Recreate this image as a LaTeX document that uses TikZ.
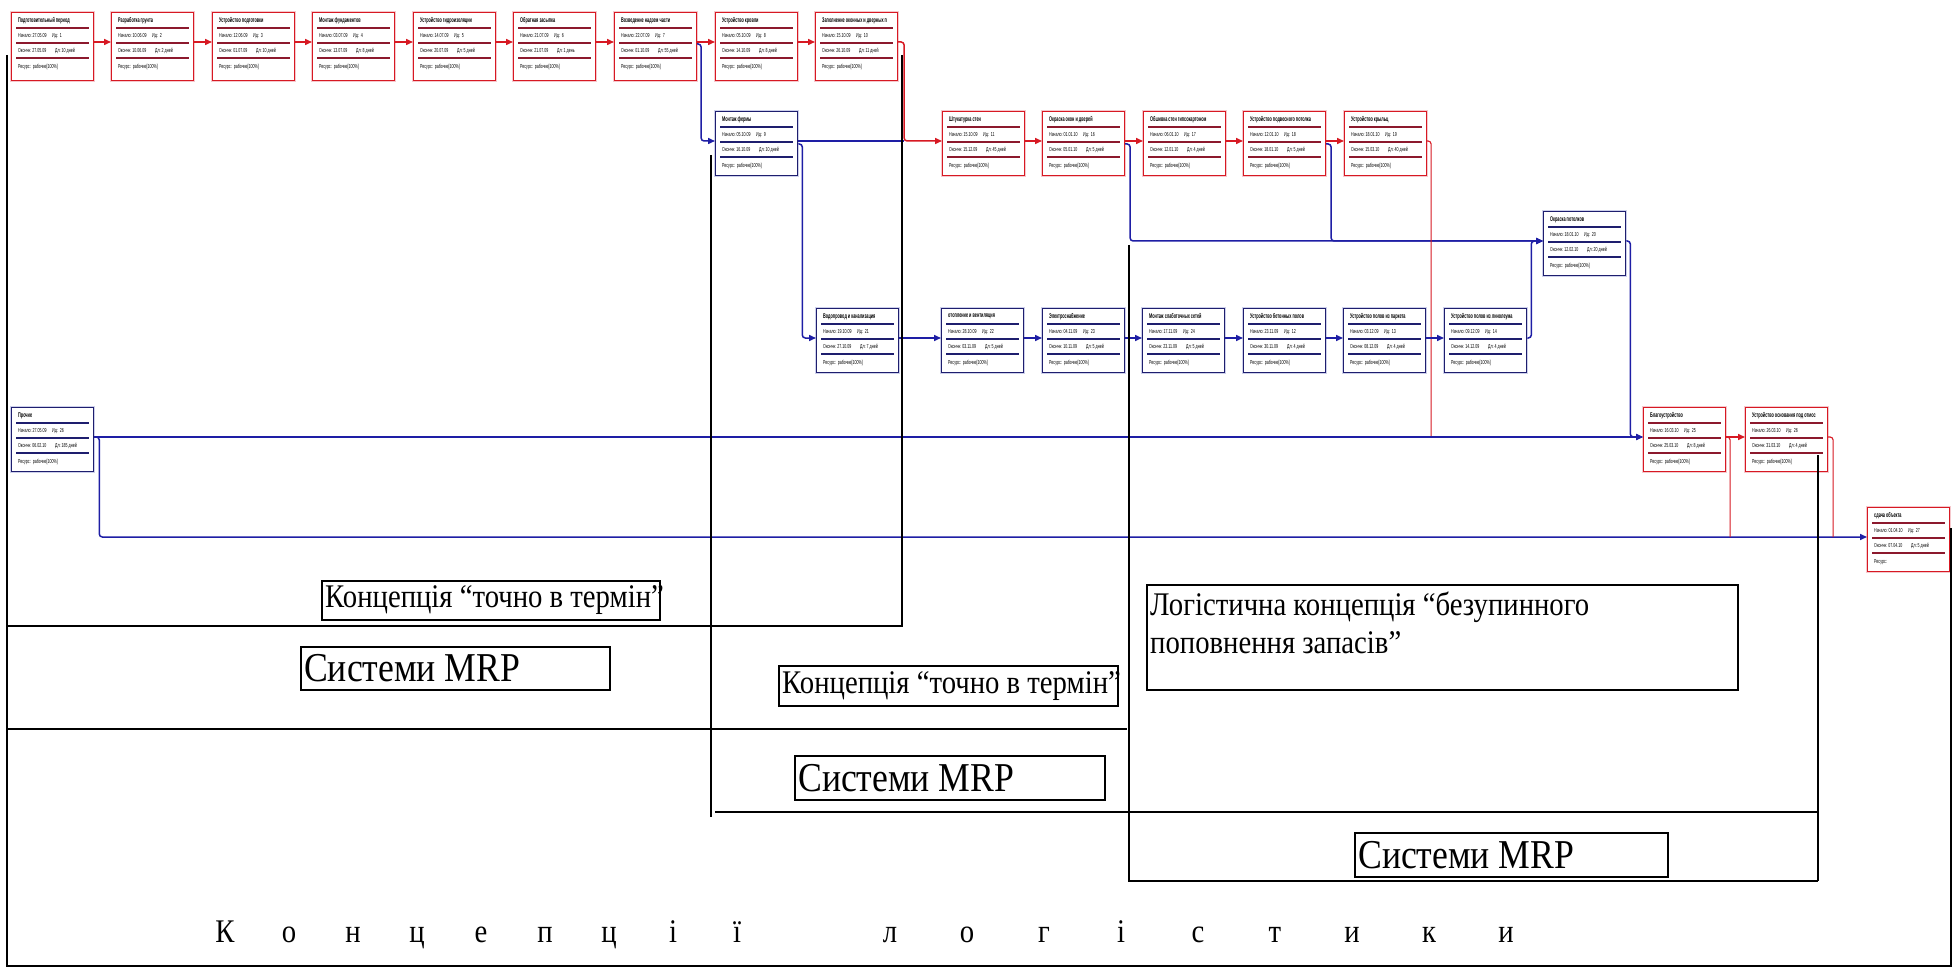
\documentclass[tikz,border=0pt]{standalone}
\usepackage{fontspec}
\setmainfont{Liberation Serif}
\newfontfamily\labfont[FakeStretch=0.87]{Liberation Serif}
\newfontfamily\pfont[FakeStretch=0.62]{Liberation Sans}
\newfontfamily\ptfont[FakeStretch=0.56]{Liberation Sans Bold}
\usetikzlibrary{arrows.meta,calc}
\definecolor{pred}{RGB}{215,25,35}
\definecolor{pmaroon}{RGB}{140,25,45}
\definecolor{pnavy}{RGB}{30,30,110}
\definecolor{pblue}{RGB}{30,30,165}
\definecolor{ppink}{RGB}{245,200,205}
\definecolor{plblue}{RGB}{205,208,235}
\def\bh{64pt}
\newcommand\resline{Ресурс:\ \ рабочие[100\%]}
\newcommand\tbox[9]{%
 \node[#4frame,minimum height=\bh] (#1) at (#2,#3) {};
 \draw[#4sep] ($(#1.north west)+(5,16)$) -- ($(#1.north east)+(-5,16)$);
 \draw[#4sep] ($(#1.north west)+(5,31)$) -- ($(#1.north east)+(-5,31)$);
 \draw[#4sep] ($(#1.north west)+(5,46)$) -- ($(#1.north east)+(-5,46)$);
 \node[ptitle] (#1-ti) at ($(#1.north west)+(7,8.5)$) {#5};
 \node[ptxt] (#1-s) at ($(#1.north west)+(7,24)$) {Начало:\ #6};
 \node[ptxt] (#1-i) at ($(#1.north west)+(41,24)$) {Ид:\ \ #7};
 \node[ptxt] (#1-e) at ($(#1.north west)+(7,39)$) {Окончн:\ #8};
 \node[ptxt] (#1-d) at ($(#1.north west)+(44,39)$) {Дл:\ #9};
 \node[ptxt] (#1-r) at ($(#1.north west)+(7,55)$) {\resline};
 \coordinate (#1-in) at ($(#1.north west)+(0,30)$);
 \coordinate (#1-out) at ($(#1.north east)+(0,30)$);
}
\begin{document}
\begin{tikzpicture}[x=1pt,y=-1pt,
  rframe/.style={draw=pred,line width=1.1pt,fill=white,minimum width=82pt,inner sep=0pt,anchor=north west,preaction={draw=ppink,line width=3.5pt}},
  bframe/.style={draw=pnavy,line width=1.3pt,fill=white,minimum width=82pt,inner sep=0pt,anchor=north west,preaction={draw=plblue,line width=3.5pt}},
  rsep/.style={draw=pmaroon,line width=1.4pt},
  bsep/.style={draw=pnavy,line width=1.4pt},
  ptitle/.style={anchor=west,inner sep=0pt,font=\ptfont\fontsize{6.8}{7}\selectfont},
  ptxt/.style={anchor=west,inner sep=0pt,font=\pfont\fontsize{5.8}{6}\selectfont},
  redc/.style={draw=pred,line width=1.5pt,rounded corners=3pt,-{Triangle[length=7pt,width=6pt]}},
  bluec/.style={draw=pblue,line width=1.5pt,rounded corners=3pt,-{Triangle[length=7pt,width=6pt]}},
  redl/.style={draw=pred,line width=1.1pt,rounded corners=3pt},
  bluel/.style={draw=pblue,line width=1.5pt},
  blk/.style={draw=black,line width=2pt},
  lbox/.style={draw=black,line width=1.6pt,anchor=north west,inner sep=0pt},
  lt/.style={anchor=west,inner sep=0pt},
  bigl/.style={inner sep=0pt,font=\labfont\fontsize{33}{36}\selectfont}]
\useasboundingbox (0,0) rectangle (1957,968);
\fill[white] (0,0) rectangle (1957,968);
% top row
\def\bh{68pt}
\tbox{t1}{11}{12}{r}{Подготовительный период}{27.05.09}{1}{27.05.09}{10 дней}
\tbox{t2}{111}{12}{r}{Разработка грунта}{10.06.09}{2}{10.06.09}{2 дней}
\tbox{t3}{212}{12}{r}{Устройство подготовки}{12.06.09}{3}{01.07.09}{10 дней}
\tbox{t4}{312}{12}{r}{Монтаж фундаментов}{03.07.09}{4}{13.07.09}{8 дней}
\tbox{t5}{413}{12}{r}{Устройство гидроизоляции}{14.07.09}{5}{20.07.09}{5 дней}
\tbox{t6}{513}{12}{r}{Обратная засыпка}{21.07.09}{6}{21.07.09}{1 день}
\tbox{t7}{614}{12}{r}{Возведение надзем части}{22.07.09}{7}{01.10.09}{55 дней}
\tbox{t8}{715}{12}{r}{Устройство кровли}{05.10.09}{8}{14.10.09}{8 дней}
\tbox{t9}{815}{12}{r}{Заполнение оконных и дверных п}{15.10.09}{10}{26.10.09}{11 дней}
\def\bh{64pt}
\tbox{mf}{715}{111}{b}{Монтаж фермы}{05.10.09}{9}{16.10.09}{10 дней}
\tbox{sh}{942}{111}{r}{Штукатурка стен}{15.10.09}{11}{15.12.09}{45 дней}
\tbox{ok}{1042}{111}{r}{Окраска окон и дверей}{01.01.10}{16}{05.01.10}{5 дней}
\tbox{ob}{1143}{111}{r}{Обшивка стен гипсокартоном}{06.01.10}{17}{12.01.10}{4 дней}
\tbox{pp}{1243}{111}{r}{Устройство подвесного потолка}{12.01.10}{18}{18.01.10}{5 дней}
\tbox{kr}{1344}{111}{r}{Устройство крыльц}{18.01.10}{19}{15.03.10}{40 дней}
\tbox{op}{1543}{211}{b}{Окраска потолков}{18.01.10}{20}{12.02.10}{20 дней}
\tbox{vd}{816}{308}{b}{Водопровод и канализация}{19.10.09}{21}{27.10.09}{7 дней}
\tbox{ot}{941}{308}{b}{отопление и вентиляция}{28.10.09}{22}{03.11.09}{5 дней}
\tbox{el}{1042}{308}{b}{Электроснабжение}{04.11.09}{23}{10.11.09}{5 дней}
\tbox{ms}{1142}{308}{b}{Монтаж слаботочных сетей}{17.11.09}{24}{23.11.09}{5 дней}
\tbox{bt}{1243}{308}{b}{Устройство бетонных полов}{23.11.09}{12}{30.11.09}{4 дней}
\tbox{pk}{1343}{308}{b}{Устройство полов из паркета}{03.12.09}{13}{08.12.09}{4 дней}
\tbox{ln}{1444}{308}{b}{Устройство полов из линолеума}{09.12.09}{14}{14.12.09}{4 дней}
\tbox{pr}{11}{407}{b}{Прочие}{27.05.09}{26}{06.02.10}{185 дней}
\tbox{bl}{1643}{407}{r}{Благоустройство}{16.03.10}{25}{25.03.10}{8 дней}
\tbox{uo}{1745}{407}{r}{Устройство основания под отмос}{26.03.10}{26}{31.03.10}{4 дней}
\renewcommand\resline{Ресурс:}
\tbox{sd}{1867}{507}{r}{сдача объекта}{01.04.10}{27}{07.04.10}{5 дней}
% connectors
\draw[redc] (t1-out) -- (t2-in);
\draw[redc] (t2-out) -- (t3-in);
\draw[redc] (t3-out) -- (t4-in);
\draw[redc] (t4-out) -- (t5-in);
\draw[redc] (t5-out) -- (t6-in);
\draw[redc] (t6-out) -- (t7-in);
\draw[redc] (t7-out) -- (t8-in);
\draw[redc] (t8-out) -- (t9-in);
\draw[bluec] ([yshift=-2pt]t7-out) -- ++(4,0) |- (mf-in);
\coordinate (j1) at ($(t9-out)+(6,0)$);
\draw[bluel] (mf-out) -- (mf-out -| j1);
\draw[redc] (t9-out) -- (j1) |- (sh-in);
\draw[bluec] ([yshift=-3pt]mf-out) -- ++(4,0) |- (vd-in);
\draw[redc] (sh-out) -- (ok-in);
\draw[redc] (ok-out) -- (ob-in);
\draw[redc] (ob-out) -- (pp-in);
\draw[redc] (pp-out) -- (kr-in);
\draw[bluec] ([yshift=-3pt]ok-out) -- ++(5,0) |- (op-in);
\draw[bluec] ([yshift=-3pt]pp-out) -- ++(5,0) |- (op-in);
\draw[redl] (kr-out) -- ++(4,0) coordinate (k1) -- (k1 |- bl-in);
\draw[bluec] (op-out) -- ++(4,0) |- (bl-in);
\draw[bluec] (vd-out) -- (ot-in);
\draw[bluec] (ot-out) -- (el-in);
\draw[bluec] (el-out) -- (ms-in);
\draw[bluec] (ms-out) -- (bt-in);
\draw[bluec] (bt-out) -- (pk-in);
\draw[bluec] (pk-out) -- (ln-in);
\draw[bluec] (ln-out) -- ++(4,0) |- (op-in);
\draw[bluec] (pr-out) -- (bl-in);
\draw[bluec] (pr-out) -- ++(5,0) |- (sd-in);
\draw[redc] (bl-out) -- (uo-in);
\draw[redl] (bl-out) -- ++(4,0) coordinate (b1) -- (b1 |- sd-in);
\draw[redl] (uo-out) -- ++(5,0) coordinate (u1) -- (u1 |- sd-in);
% black overlay frame
\draw[blk] (7,55) -- (7,966) -- (1951,966) -- (1951,528);
\draw[blk] (902,55) -- (902,626) -- (7,626);
\draw[blk] (7,729) -- (1127,729);
\draw[blk] (711,155) -- (711,817);
\draw[blk] (715,812) -- (1818,812);
\draw[blk] (1818,455) -- (1818,881);
\draw[blk] (1129,245) -- (1129,881) -- (1818,881);
% labels
\node[lbox,minimum width=338pt,minimum height=39pt] (ca) at (321,580) {};
\node[lt,font=\labfont\fontsize{33}{38}\selectfont] (ca-t) at ($(ca.west)+(4,0)$) {Концепція “точно в термін”};
\node[lbox,minimum width=309pt,minimum height=43pt] (ma) at (300,646) {};
\node[lt,font=\labfont\fontsize{41}{44}\selectfont] (ma-t) at ($(ma.west)+(4,0)$) {Системи MRP};
\node[lbox,minimum width=339pt,minimum height=40pt] (cb) at (778,665) {};
\node[lt,font=\labfont\fontsize{33}{38}\selectfont] (cb-t) at ($(cb.west)+(4,0)$) {Концепція “точно в термін”};
\node[lbox,minimum width=310pt,minimum height=44pt] (mb) at (794,755) {};
\node[lt,font=\labfont\fontsize{41}{44}\selectfont] (mb-t) at ($(mb.west)+(4,0)$) {Системи MRP};
\node[lbox,minimum width=591pt,minimum height=105pt] (lg) at (1146,584) {};
\node[anchor=north west,inner sep=0pt,align=left,font=\labfont\fontsize{33}{38}\selectfont] (lg-t) at ($(lg.north west)+(4,8)$) {Логістична концепція “безупинного\\поповнення запасів”};
\node[lbox,minimum width=313pt,minimum height=44pt] (mc) at (1354,832) {};
\node[lt,font=\labfont\fontsize{41}{44}\selectfont] (mc-t) at ($(mc.west)+(4,0)$) {Системи MRP};
% bottom title
\foreach \c [count=\i] in {К,о,н,ц,е,п,ц,і,ї}
  \node[bigl,anchor=base] (wa-\i) at (225+64*\i-64, 942) {\c};
\foreach \c [count=\i] in {л,о,г,і,с,т,и,к,и}
  \node[bigl,anchor=base] (wb-\i) at (890+77*\i-77, 942) {\c};
\end{tikzpicture}
\end{document}
